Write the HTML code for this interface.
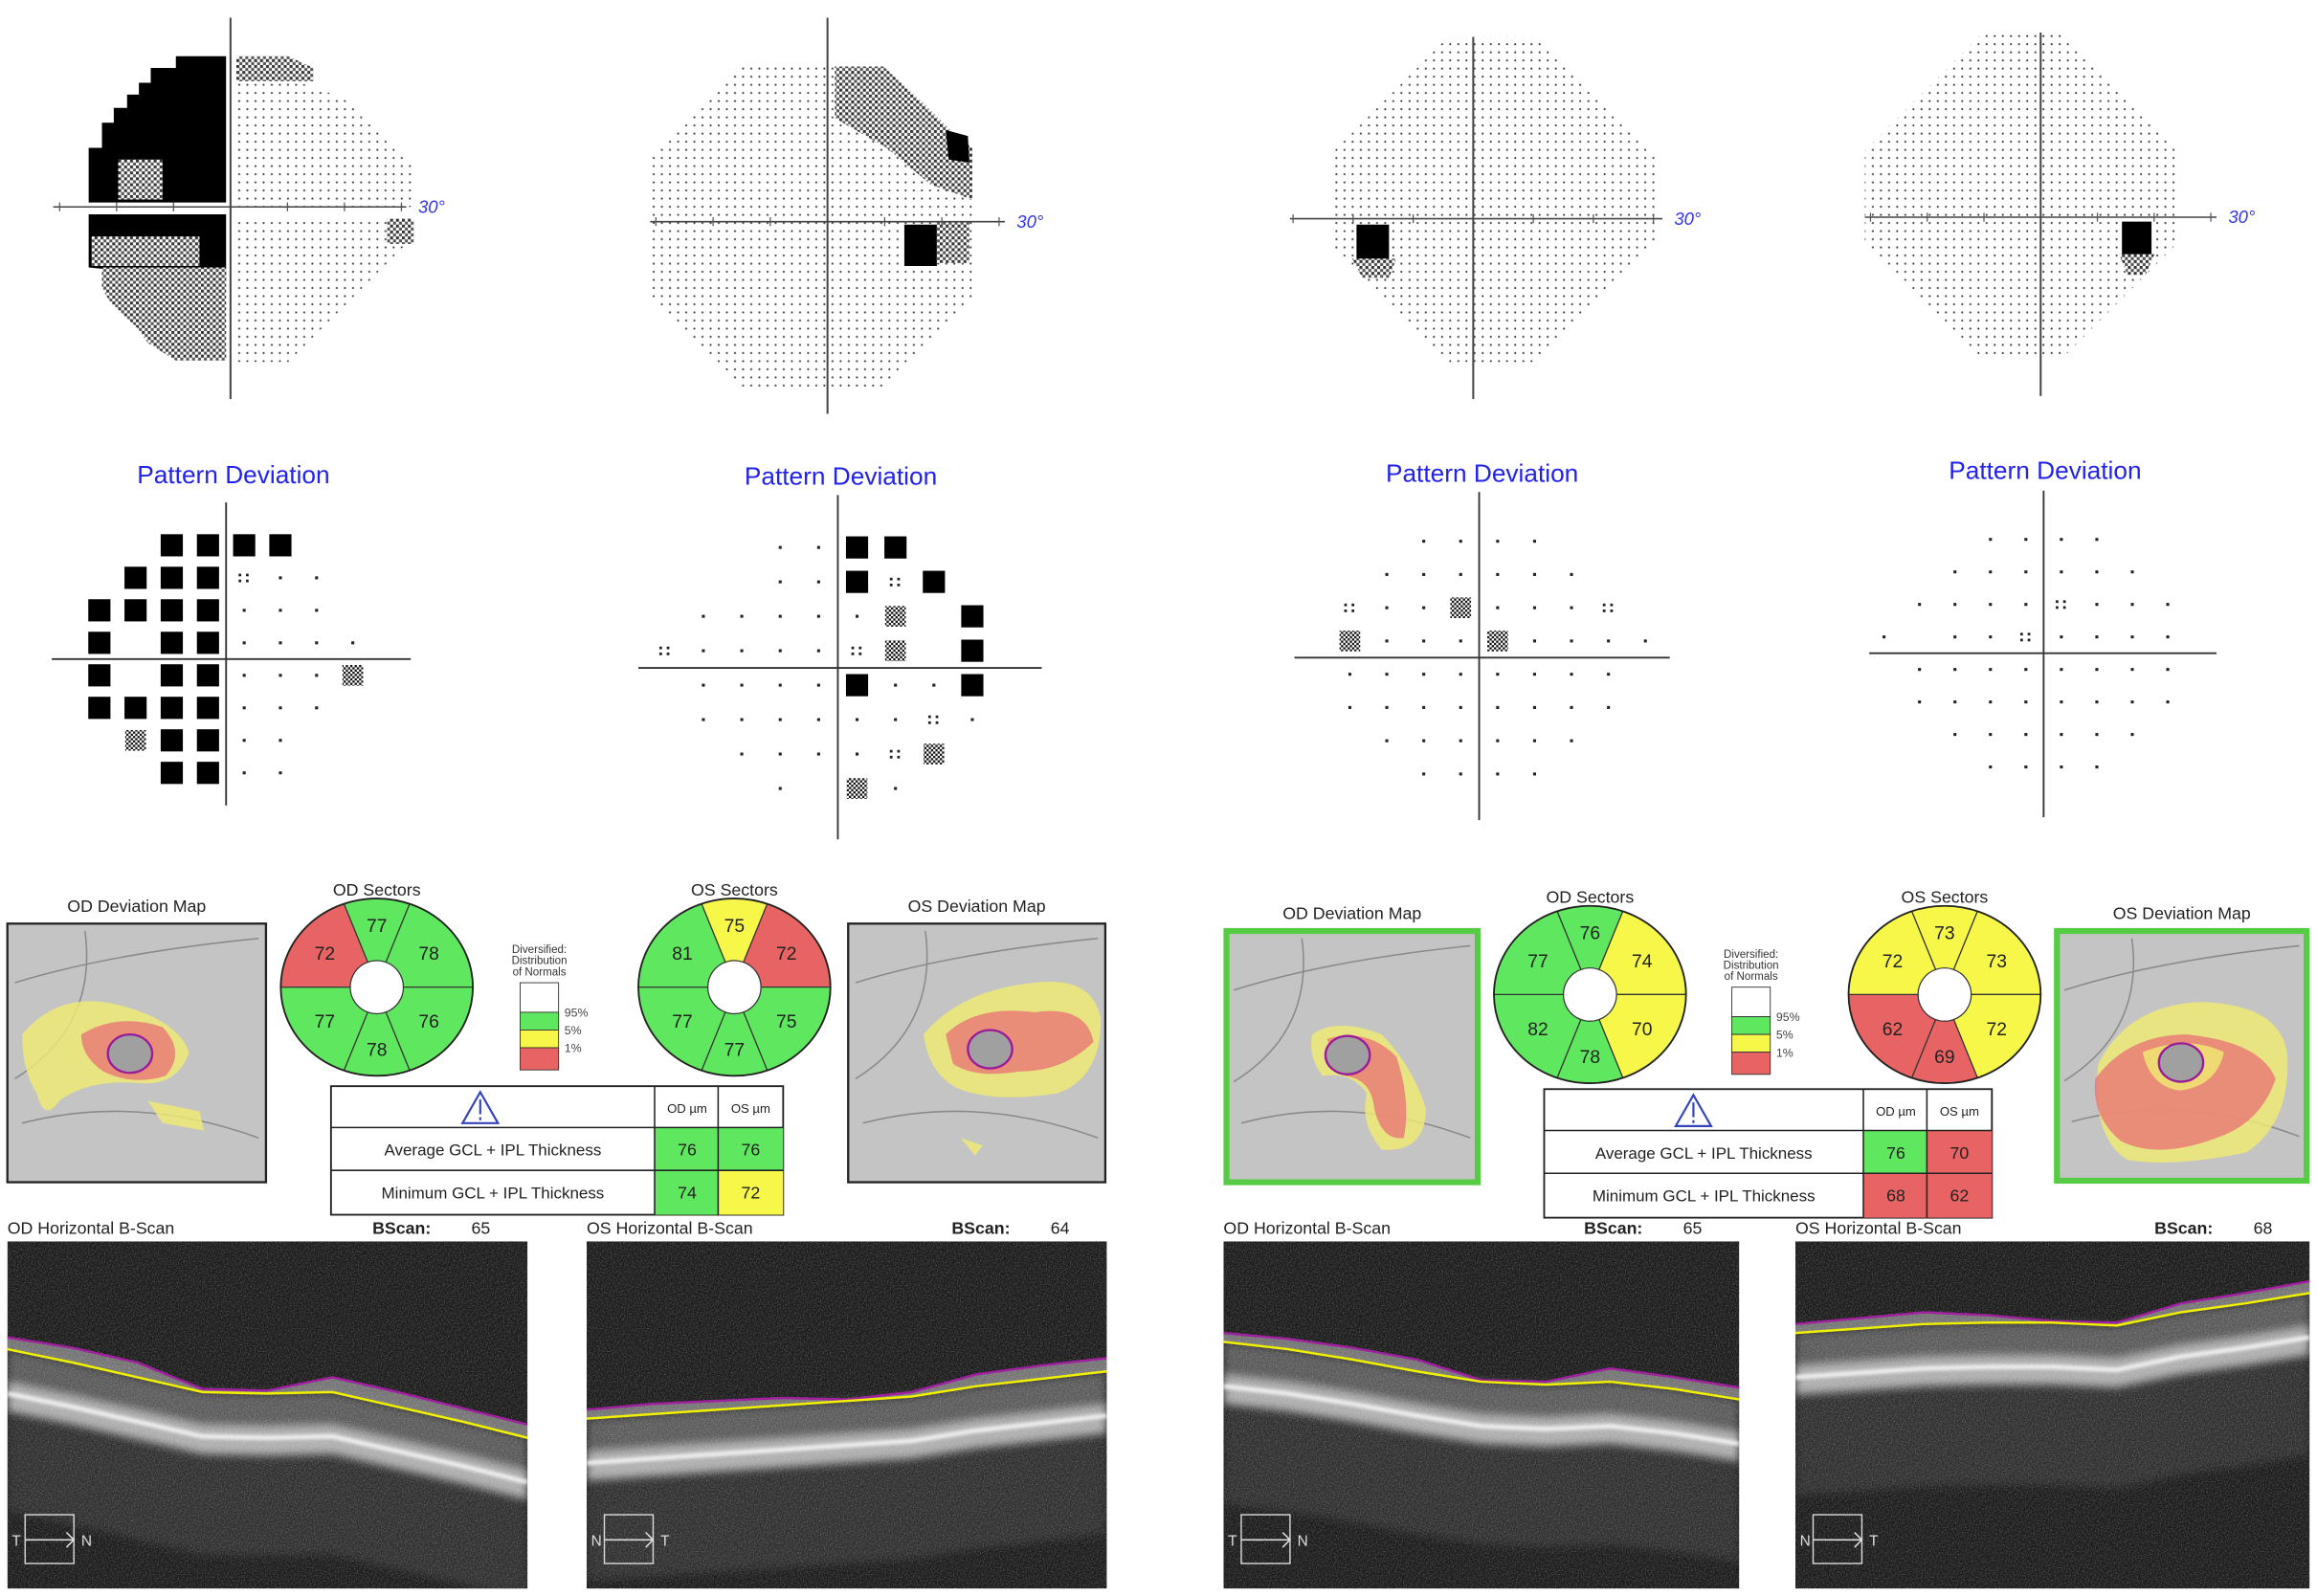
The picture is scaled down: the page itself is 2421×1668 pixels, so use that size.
<!DOCTYPE html>
<html><head><meta charset="utf-8">
<style>
html,body{margin:0;padding:0;background:#fff;}
#wrap{width:2421px;height:1668px;overflow:hidden;}
svg text{font-family:"Liberation Sans",sans-serif;}
</style></head>
<body>
<div id="wrap">
<svg id="chart" xmlns="http://www.w3.org/2000/svg" width="2421" height="1668" viewBox="0 0 1568 1080" preserveAspectRatio="none">
<defs>
<pattern id="dots" width="5.5" height="5.5" patternUnits="userSpaceOnUse"><rect x="1.8" y="1.8" width="1.2" height="1.2" fill="#333"/></pattern>
<pattern id="hatch" width="4" height="4" patternUnits="userSpaceOnUse"><rect width="4" height="4" fill="#fff"/><rect x="0" y="0" width="2" height="2" fill="#333"/><rect x="2" y="2" width="2" height="2" fill="#555"/></pattern>
<pattern id="checker" width="3" height="3" patternUnits="userSpaceOnUse"><rect width="3" height="3" fill="#fff"/><rect width="1.5" height="1.5" fill="#111"/><rect x="1.5" y="1.5" width="1.5" height="1.5" fill="#111"/></pattern>
<filter id="noise" x="0" y="0" width="100%" height="100%"><feTurbulence type="fractalNoise" baseFrequency="1.1" numOctaves="2" seed="3"/><feColorMatrix type="matrix" values="0 0 0 0 1  0 0 0 0 1  0 0 0 0 1  2.2 0 0 0 -0.9"/></filter>
<filter id="blur2"><feGaussianBlur stdDeviation="3"/></filter>
<filter id="blur1"><feGaussianBlur stdDeviation="1.2"/></filter>
</defs>
</svg>
</div>
<script>
// ---------- data ----------
const pdTitles = ["Pattern Deviation","Pattern Deviation","Pattern Deviation","Pattern Deviation"];
const pdRows1 = ["   BBBB   ","  BBB:..  "," BBBB...  "," B BB.... "," B BB...# "," BBBB...  ","  #BB..   ","   BB..   "];
const pdRows2 = ["   ..BB   ","   ..B:B  "," .....# B ",":....:# B "," ....B..B "," ......:. ","  ....:#  ","   . #.   "];
const pdRows3 = ["   ....   ","  ......  "," :..#...: "," #...#....",
                 " ........ "," ........ ","  ......  ","   ....   "];
const pdRows4 = ["   ....   ","  ......  "," ....:... ",". ..:.... "," ........ "," ........ ","  ......  ","   ....   "];
const sectorNames = ["top","top-right","bottom-right","bottom","bottom-left","top-left"];
const sectorsODa = [77,78,76,78,77,72];
const sectorsOSa = [75,72,75,77,77,81];
const sectorsODb = [76,74,70,78,82,77];
const sectorsOSb = [73,73,72,69,62,72];
const sectorColODa = ["g","g","g","g","g","r"];
const sectorColOSa = ["y","r","g","g","g","g"];
const sectorColODb = ["g","y","y","g","g","g"];
const sectorColOSb = ["y","y","y","r","r","y"];
const tableA = [[76,76],[74,72]];
const tableACol = [["g","g"],["g","y"]];
const tableB = [[76,70],[68,62]];
const tableBCol = [["g","r"],["r","r"]];
const bscanNums = [65,64,65,68];
const COL = {g:"#5fe85f", y:"#f7f74a", r:"#e86464", w:"#ffffff"};

const NS='http://www.w3.org/2000/svg';
const svg=document.getElementById('chart');
function el(tag,attrs,parent){const e=document.createElementNS(NS,tag);for(const k in attrs)e.setAttribute(k,attrs[k]);(parent||svg).appendChild(e);return e;}
function txt(x,y,s,size,attrs,parent){const t=el('text',Object.assign({x:x,y:y,'font-size':size,fill:'#222'},attrs||{}),parent);t.textContent=s;return t;}

// ---------- grayscale visual fields ----------
function octa(l,r,t,b,c){return [[l+c,t],[r-c,t],[r,t+c],[r,b-c],[r-c,b],[l+c,b],[l,b-c],[l,t+c]].map(p=>p.join(',')).join(' ');}
function gsAxes(g,cx,cy,x0,x1,y0,y1){
  let a=el('line',{x1:cx,y1:y0,x2:cx,y2:y1,stroke:'#444','stroke-width':1.3},g);
  
  
  let b=el('line',{x1:x0,y1:cy,x2:x1,y2:cy,stroke:'#444','stroke-width':1},g);
  
  
  for(let k=-3;k<=3;k++){ if(!k)continue;
    let tk=el('line',{x1:cx+k*(x1-x0)/6.2,y1:cy-3,x2:cx+k*(x1-x0)/6.2,y2:cy+3,stroke:'#555','stroke-width':0.8},g);
    
    
  }
  let lab=txt(x1+8,cy+4,'30°',12,{fill:'#3333ee','font-style':'italic'},g);
  
  
}
function poly(g,pts,fill,name){const p=el('polygon',{points:pts,fill:fill},g);
  
  
  return p;}

// plot 1
let g1=el('g',{});


poly(g1,"160,55 200,55 232,66 280,112 280,140 160,140",'url(#dots)','dot-region');
poly(g1,"160,147 280,147 280,160 240,200 205,235 195,245 160,245",'url(#dots)','dot-region');
poly(g1,"160,38 195,38 212,46 212,55 160,55",'url(#hatch)','gray-region');
poly(g1,"262,148 280,148 280,165 262,165",'url(#hatch)','gray-region');
poly(g1,"119,38 119,46 102,46 102,56 94,56 94,64 86,64 86,73 77,73 77,83 69,83 69,100 60,100 60,137 153,137 153,38",'#000','black-region');
poly(g1,"80,108 110,108 110,135 80,135",'url(#hatch)','gray-region');
poly(g1,"60,145 153,145 153,190 60,181",'#000','black-region');
poly(g1,"62,160 135,160 135,180 62,180",'url(#hatch)','gray-region');
poly(g1,"69,181 153,181 153,244 119,244 100,232 93,222 75,205 69,195",'url(#hatch)','gray-region');
gsAxes(g1,156,140,36,275,12,270);

// plot 2
let g2=el('g',{});


poly(g2,octa(440,660,45,262,62),'url(#dots)','dot-region');
poly(g2,"565,45 598,45 625,70 645,90 658,100 658,135 630,125 600,100 565,80",'url(#hatch)','gray-region');
poly(g2,"640,88 655,92 656,110 642,108",'#000','black-region');
poly(g2,"612,152 634,152 634,180 612,180",'#000','black-region');
poly(g2,"634,150 656,150 656,178 634,178",'url(#hatch)','gray-region');
gsAxes(g2,560,150,440,680,12,280);

// plot 3
let g3=el('g',{});


poly(g3,octa(900,1120,25,245,80),'url(#dots)','dot-region');
poly(g3,"918,152 940,152 940,180 918,180",'#000','black-region');
poly(g3,"915,175 945,175 940,188 922,188",'url(#hatch)','gray-region');
gsAxes(g3,997,148,873,1125,25,270);

// plot 4
let g4=el('g',{});


poly(g4,octa(1262,1475,22,243,80),'url(#dots)','dot-region');
poly(g4,"1436,150 1456,150 1456,174 1436,174",'#000','black-region');
poly(g4,"1434,172 1458,172 1452,186 1440,186",'url(#hatch)','gray-region');
gsAxes(g4,1381,147,1262,1500,22,268);

// ---------- pattern deviation plots ----------
const pdSpecs=[
 {rows:pdRows1,cx:153,cy:446,dx:24.5,dy:22,tx:158,ty:327,x0:35,x1:278,y0:340,y1:545},
 {rows:pdRows2,cx:567,cy:452,dx:26,dy:23.3,tx:569,ty:328,x0:432,x1:705,y0:335,y1:568},
 {rows:pdRows3,cx:1001,cy:445,dx:25,dy:22.5,tx:1003,ty:326,x0:876,x1:1130,y0:333,y1:555},
 {rows:pdRows4,cx:1383,cy:442,dx:24,dy:22,tx:1384,ty:324,x0:1265,x1:1500,y0:332,y1:553}];
pdSpecs.forEach((s,i)=>{
  const g=el('g',{});
  
  
  const t=txt(s.tx,s.ty,pdTitles[i],17,{fill:'#2222ee','text-anchor':'middle'},g);
  
  
  const h=el('line',{x1:s.x0,y1:s.cy,x2:s.x1,y2:s.cy,stroke:'#333','stroke-width':1.2},g);
  
  
  const v=el('line',{x1:s.cx,y1:s.y0,x2:s.cx,y2:s.y1,stroke:'#333','stroke-width':1.2},g);
  
  
  s.rows.forEach((row,r)=>{
    for(let c=0;c<row.length;c++){
      const ch=row[c]; if(ch===' ')continue;
      const x=s.cx+(c-4.5)*s.dx, y=s.cy+(r-3.5)*s.dy;
      let m;
      if(ch==='.') m=el('rect',{x:x-1,y:y-1,width:2,height:2,fill:'#222'},g);
      else if(ch===':'){ m=el('g',{},g); [[-3,-2],[2,-2],[-3,2],[2,2]].forEach(o=>el('rect',{x:x+o[0]-0.8,y:y+o[1]-0.8,width:1.8,height:1.8,fill:'#222'},m)); }
      else if(ch==='#') m=el('rect',{x:x-7,y:y-7,width:14,height:14,fill:'url(#checker)'},g);
      else m=el('rect',{x:x-7.5,y:y-7.5,width:15,height:15,fill:'#000'},g);
      
      
    }
  });
});

// ---------- sector donuts ----------
const secAngles=[[250,290],[290,360],[0,70],[70,110],[110,180],[180,250]];
function donut(cx,cy,vals,cols,title,name){
  const g=el('g',{});
  
  
  const t=txt(cx,cy-62,title,11.5,{'text-anchor':'middle'},g);
  
  
  const R=65,RY=60,r=18;
  vals.forEach((v,i)=>{
    const [a0,a1]=secAngles[i].map(a=>a*Math.PI/180);
    const p=`M${cx+r*Math.cos(a0)},${cy+r*Math.sin(a0)} L${cx+R*Math.cos(a0)},${cy+RY*Math.sin(a0)} A${R},${RY} 0 0 1 ${cx+R*Math.cos(a1)},${cy+RY*Math.sin(a1)} L${cx+r*Math.cos(a1)},${cy+r*Math.sin(a1)} A${r},${r} 0 0 0 ${cx+r*Math.cos(a0)},${cy+r*Math.sin(a0)}Z`;
    const s=el('path',{d:p,fill:COL[cols[i]],stroke:'#333','stroke-width':0.8},g);
    
    
    const am=(i===0?270:i===3?90:(secAngles[i][0]+secAngles[i][1])/2)*Math.PI/180;
    const rr=(i===0||i===3)?45:43;
    const l=txt(cx+rr*Math.cos(am),cy+rr*0.93*Math.sin(am)+4.5,String(v),12.5,{'text-anchor':'middle'},g);
    
    
  });
  const o=el('ellipse',{cx:cx,cy:cy,rx:R,ry:RY,fill:'none',stroke:'#222','stroke-width':1.2},g);
  
  
}
donut(255,668,sectorsODa,sectorColODa,'OD Sectors','od-sectors-left');
donut(497,668,sectorsOSa,sectorColOSa,'OS Sectors','os-sectors-left');
donut(1076,673,sectorsODb,sectorColODb,'OD Sectors','od-sectors-right');
donut(1316,673,sectorsOSb,sectorColOSb,'OS Sectors','os-sectors-right');

// ---------- legends ----------
function legend(x,y,name){
  const g=el('g',{});
  
  
  ['Diversified:','Distribution','of Normals'].forEach((s,i)=>{const t=txt(x+13,y+i*7.5,s,7.5,{'text-anchor':'middle',fill:'#333'},g);
    
    });
  const cs=['w','g','y','r'], hs=[20,12,12,15]; let yy=y+20;
  cs.forEach((c,i)=>{const r=el('rect',{x:x,y:yy,width:26,height:hs[i],fill:COL[c],stroke:'#333','stroke-width':0.6},g);
    
    
    yy+=hs[i];});
  [['95%',y+40],['5%',y+52],['1%',y+64]].forEach(a=>{const t=txt(x+30,a[1]+3,a[0],8,{fill:'#444'},g);
    
    });
}
legend(352,645,'normals-legend-left');
legend(1172,648,'normals-legend-right');

// ---------- tables ----------
function table(x,y,w,vals,cols,name){
  const g=el('g',{});
  
  
  const c1=x+w-87,c2=x+w-44, rh=[28,29,30];
  const b=el('rect',{x:x,y:y,width:w,height:87,fill:'#fff',stroke:'#222','stroke-width':1.2},g);
  
  
  const tri=el('path',{d:`M${x+101},${y+4} L${x+89},${y+25} L${x+113},${y+25} Z M${x+101},${y+9} L${x+101},${y+19} M${x+101},${y+21} L${x+101},${y+23}`,fill:'none',stroke:'#3344bb','stroke-width':1.4},g);
  
  
  [['OD µm',c1],['OS µm',c2]].forEach(a=>{const t=txt(a[1]+22,y+18,a[0],8.5,{'text-anchor':'middle'},g);
    
    });
  const labels=['Average GCL + IPL Thickness','Minimum GCL + IPL Thickness'];
  for(let r=0;r<2;r++){
    const ry=y+rh[0]+r*rh[1];
    const t=txt((x+c1)/2,ry+19,labels[r],11,{'text-anchor':'middle'},g);
    
    
    [c1,c2].forEach((cx,k)=>{
      const c=el('rect',{x:cx,y:ry,width:cx===c1?c2-c1:x+w-c2,height:rh[1]+(r?1:0),fill:COL[cols[r][k]]},g);
      
      
      const v=txt(cx+22,ry+19,String(vals[r][k]),11.5,{'text-anchor':'middle'},g);
      
      
    });
    const ln=el('line',{x1:x,y1:ry,x2:x+w,y2:ry,stroke:'#222','stroke-width':1},g);
    
    
  }
  [c1,c2].forEach(cx=>{const l=el('line',{x1:cx,y1:y,x2:cx,y2:y+87,stroke:'#222','stroke-width':1},g);
    
    });
}
table(224,735,306,tableA,tableACol,'thickness-table-left');
table(1045,737,303,tableB,tableBCol,'thickness-table-right');

// ---------- deviation maps ----------
function devMap(x,y,w,h,title,green,blobs,ell,name){
  const g=el('g',{});
  
  
  const t=txt(x+w/2,y-8,title,11.5,{'text-anchor':'middle'},g);
  
  
  const bg=el('rect',{x:x,y:y,width:w,height:h,fill:'#c4c4c4',stroke:green?'#55cc44':'#222','stroke-width':green?4:1.5},g);
  
  
  const ves=el('path',{d:`M${x+5},${y+40} Q${x+w*0.4},${y+20} ${x+w-5},${y+10} M${x+10},${y+h-40} Q${x+w*0.5},${y+h-60} ${x+w-5},${y+h-30} M${x+w*0.3},${y+5} Q${x+w*0.35},${y+h*0.4} ${x+5},${y+h*0.6}`,fill:'none',stroke:'#8a8a8a','stroke-width':1},g);
  
  
  blobs.forEach(b=>{const p=el('path',{d:b[0],fill:b[1],opacity:0.8},g);
    
    });
  const e=el('ellipse',{cx:ell[0],cy:ell[1],rx:15,ry:13,fill:'#a0a0a0',stroke:'#9a1a9a','stroke-width':1.5},g);
  
  
}
devMap(5,625,175,175,'OD Deviation Map',false,[
 ['M15,700 Q40,670 80,680 Q120,690 128,712 Q120,735 95,733 Q60,730 40,745 Q30,760 25,740 Q15,725 15,700Z','#f0ec70'],
 ['M55,700 Q80,685 110,695 Q126,712 112,728 Q90,735 70,725 Q55,715 55,700Z','#ea7575'],
 ['M100,745 L135,752 L138,765 L110,760Z','#f0ec70']],[88,713],'od-deviation-map-left');
devMap(574,625,174,175,'OS Deviation Map',false,[
 ['M625,700 Q650,670 700,665 Q740,660 745,690 Q745,730 715,740 Q680,745 660,740 Q630,735 625,700Z','#f0ec70'],
 ['M640,700 Q660,680 700,685 Q735,680 740,705 Q720,725 690,725 Q660,730 645,720Z','#ea7575'],
 ['M650,770 L665,775 L660,782Z','#f0ec70']],[670,710],'os-deviation-map-left');
devMap(830,630,170,170,'OD Deviation Map',true,[
 ['M888,700 Q905,688 935,700 Q955,720 965,750 Q965,780 935,778 Q920,760 925,740 Q915,725 895,728 Q885,715 888,700Z','#f0ec70'],
 ['M898,703 Q925,695 945,715 Q955,745 950,770 Q935,772 930,750 Q928,730 910,728Z','#ea7575']],[912,714],'od-deviation-map-right');
devMap(1392,630,169,169,'OS Deviation Map',true,[
 ['M1420,720 Q1440,680 1490,678 Q1545,680 1548,715 Q1550,760 1520,780 Q1470,790 1440,785 Q1415,770 1420,720Z','#f0ec70'],
 ['M1418,730 Q1440,700 1480,700 Q1530,705 1540,730 Q1530,760 1500,770 Q1460,785 1435,772 Q1415,755 1418,730Z','#ea7575'],
 ['M1450,712 Q1480,700 1505,712 Q1500,735 1475,738 Q1455,735 1450,712Z','#f0ec70']],[1476,719],'os-deviation-map-right');

// ---------- B-scans ----------
const bsYellowODa=[73,82,92,102,103,102,112,122,133];
const bsPurpleODa=[65,72,82,100,101,92,102,113,124];
const bsYellowOSa=[120,117,114,111,108,105,98,93,88];
const bsPurpleOSa=[114,110,108,106,107,102,90,84,79];
const bsYellowODb=[68,73,80,88,95,97,95,100,107];
const bsPurpleODb=[62,66,72,80,94,95,86,92,99];
const bsYellowOSb=[62,59,56,55,55,57,48,42,35];
const bsPurpleOSb=[56,52,48,50,54,55,42,35,27];
function bscan(x,y,w,h,yl,pl,title,num,lt,rt,name){
  const g=el('g',{});
  
  
  const t=txt(x,y-5,title,11.5,{},g);
  
  
  const n=txt(x+w-105,y-5,'BScan:',11.5,{'font-weight':'bold'},g);
  
  
  const nv=txt(x+w-38,y-5,String(num),11.5,{},g);
  
  
  const cp=el('clipPath',{id:'cp'+name},g);
  el('rect',{x:x,y:y,width:w,height:h},cp);
  const inner=el('g',{'clip-path':'url(#cp'+name+')'},g);
  const bg=el('rect',{x:x,y:y,width:w,height:h,fill:'#1c1c1c'},inner);
  
  
  const xs=yl.map((_,i)=>x+i*w/(yl.length-1));
  const line=(arr,off)=>arr.map((v,i)=>`${i?'L':'M'}${xs[i]},${y+v+off}`).join(' ');
  const band=(o1,o2)=>line(yl,o1)+' '+yl.slice().reverse().map((v,i)=>`L${xs[yl.length-1-i]},${y+v+o2}`).join(' ')+'Z';
  const layers=[[40,110,'#4a4a4a',0.45],[0,26,'#666',0.85],[22,42,'#c8c8c8',0.85]];
  layers.forEach(L=>{const p=el('path',{d:band(L[0],L[1]),fill:L[2],opacity:L[3],filter:'url(#blur2)'},inner);
    
    });
  const gcl=el('path',{d:pl.map((v,i)=>`${i?'L':'M'}${xs[i]},${y+v}`).join(' ')+' '+yl.slice().reverse().map((v,i)=>`L${xs[yl.length-1-i]},${y+v}`).join(' ')+'Z',fill:'#8a8a8a',opacity:0.8},inner);
  
  
  const rpe=el('path',{d:line(yl,30),fill:'none',stroke:'#f4f4f4','stroke-width':3,filter:'url(#blur1)'},inner);
  
  
  const nz=el('rect',{x:x,y:y,width:w,height:h,filter:'url(#noise)',opacity:0.25},inner);
  
  
  const pu=el('path',{d:line(pl,0),fill:'none',stroke:'#a020a0','stroke-width':1.6},g);
  
  
  const ye=el('path',{d:line(yl,0),fill:'none',stroke:'#f0f000','stroke-width':1.6},g);
  
  
  const bx=el('rect',{x:x+12,y:y+h-50,width:33,height:33,fill:'none',stroke:'#ddd','stroke-width':0.9},g);
  
  
  const ar=el('path',{d:`M${x+12},${y+h-33} L${x+45},${y+h-33} M${x+40},${y+h-38} L${x+45},${y+h-33} L${x+40},${y+h-28}`,fill:'none',stroke:'#ddd','stroke-width':1},g);
  
  
  const l1=txt(x+3,y+h-29,lt,10,{fill:'#ddd'},g);
  
  
  const l2=txt(x+50,y+h-29,rt,10,{fill:'#ddd'},g);
  
  
}
bscan(5,840,352,235,bsYellowODa,bsPurpleODa,'OD Horizontal B-Scan',bscanNums[0],'T','N','od-bscan-left');
bscan(397,840,352,235,bsYellowOSa,bsPurpleOSa,'OS Horizontal B-Scan',bscanNums[1],'N','T','os-bscan-left');
bscan(828,840,349,235,bsYellowODb,bsPurpleODb,'OD Horizontal B-Scan',bscanNums[2],'T','N','od-bscan-right');
bscan(1215,840,348,235,bsYellowOSb,bsPurpleOSb,'OS Horizontal B-Scan',bscanNums[3],'N','T','os-bscan-right');
</script>
</body></html>
